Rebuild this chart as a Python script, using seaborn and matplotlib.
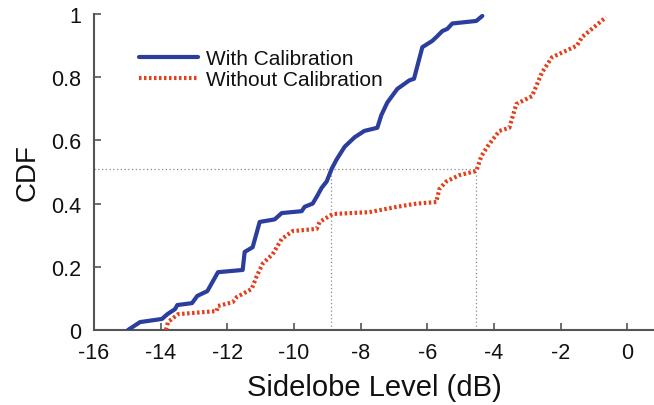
import matplotlib
matplotlib.use("Agg")
import matplotlib.pyplot as plt
import seaborn as sns
import pandas as pd

# CDF of sidelobe level, with and without calibration
with_cal_x = [-14.98, -14.62, -13.96, -13.80, -13.57, -13.50, -13.06, -12.90, -12.60, -12.28,
              -11.54, -11.48, -11.24, -11.03, -10.58, -10.37, -9.77, -9.68, -9.44, -9.30,
              -9.17, -9.02, -8.87, -8.72, -8.48, -8.18, -7.89, -7.50, -7.38, -7.20,
              -6.90, -6.54, -6.40, -6.30, -6.15, -5.85, -5.70, -5.55, -5.40, -5.25,
              -4.53, -4.35]
with_cal_y = [0.000, 0.025, 0.035, 0.050, 0.066, 0.079, 0.085, 0.108, 0.123, 0.183,
              0.190, 0.247, 0.262, 0.342, 0.350, 0.370, 0.376, 0.390, 0.400, 0.425,
              0.450, 0.470, 0.510, 0.540, 0.580, 0.610, 0.630, 0.640, 0.680, 0.720,
              0.763, 0.790, 0.795, 0.835, 0.895, 0.915, 0.930, 0.946, 0.953, 0.970,
              0.978, 0.994]

without_cal_x = [-13.84, -13.78, -13.48, -12.32, -12.28, -11.84, -11.72, -11.27, -11.12, -10.94,
                 -10.64, -10.37, -10.04, -9.32, -9.23, -8.84, -7.74, -6.90, -6.33, -5.73,
                 -5.64, -5.43, -5.04, -4.53, -4.38, -4.20, -3.84, -3.54, -3.33, -2.86,
                 -2.56, -2.26, -1.51, -1.36, -1.06, -0.64]
without_cal_y = [0.000, 0.025, 0.050, 0.060, 0.076, 0.088, 0.104, 0.130, 0.170, 0.210,
                 0.240, 0.288, 0.313, 0.320, 0.342, 0.367, 0.373, 0.390, 0.400, 0.405,
                 0.446, 0.470, 0.490, 0.503, 0.550, 0.580, 0.630, 0.640, 0.715, 0.740,
                 0.815, 0.863, 0.900, 0.927, 0.953, 0.990]

# Median markers
median_level = 0.51
median_with = -8.88
median_without = -4.55

x_ticks = [-16, -14, -12, -10, -8, -6, -4, -2, 0]
y_ticks = [0, 0.2, 0.4, 0.6, 0.8, 1]
y_tick_labels = ["0", "0.2", "0.4", "0.6", "0.8", "1"]

sns.set_style("ticks")
plt.rcParams["font.family"] = ["Liberation Sans", "DejaVu Sans"]

fig = plt.figure(figsize=(6.54, 4.06), dpi=100)
ax = fig.add_axes([94 / 654, 1 - 331 / 406, 1 - 94 / 654, (331 - 15) / 406])

df_with = pd.DataFrame({"x": with_cal_x, "y": with_cal_y})
df_without = pd.DataFrame({"x": without_cal_x, "y": without_cal_y})

# guide lines at the median
guide = dict(color="#8a8a8a", lw=0.9, ls=(0, (1, 2)), zorder=1)
ax.plot([-16, median_without], [median_level, median_level], **guide)
ax.plot([median_with, median_with], [0, median_level], **guide)
ax.plot([median_without, median_without], [0, median_level], **guide)

sns.lineplot(data=df_with, x="x", y="y", sort=False, ax=ax, color="#2b3e9e",
             lw=3.0, label="With Calibration", zorder=3)
sns.lineplot(data=df_without, x="x", y="y", sort=False, ax=ax, color="#e2401c",
             lw=3.0, ls=(0, (0.6, 0.6)), label="Without Calibration", zorder=3)

ax.set_xlim(-16, 0.8)
ax.set_ylim(0, 1)
ax.set_xticks(x_ticks)
ax.set_xticklabels([str(t) for t in x_ticks])
ax.set_yticks(y_ticks)
ax.set_yticklabels(y_tick_labels)

ax.set_xlabel("Sidelobe Level (dB)", fontsize=21, color="#111111", labelpad=7)
ax.set_ylabel("CDF", fontsize=20, color="#111111", labelpad=8)

ax.tick_params(direction="in", length=5, width=1.2, colors="#555555",
               labelsize=15.5, labelcolor="#111111", pad=9)

sns.despine(ax=ax, top=True, right=True)
for side in ("left", "bottom"):
    ax.spines[side].set_color("#555555")
    ax.spines[side].set_linewidth(1.5)

leg = ax.legend(loc="upper left", bbox_to_anchor=(129 / 654, 1 - 40 / 406),
                bbox_transform=fig.transFigure, frameon=False, fontsize=15,
                handlelength=2.8, handletextpad=0.4, labelspacing=0.1, borderpad=0)
for t in leg.get_texts():
    t.set_color("#111111")

fig.savefig("out.png", dpi=100)
